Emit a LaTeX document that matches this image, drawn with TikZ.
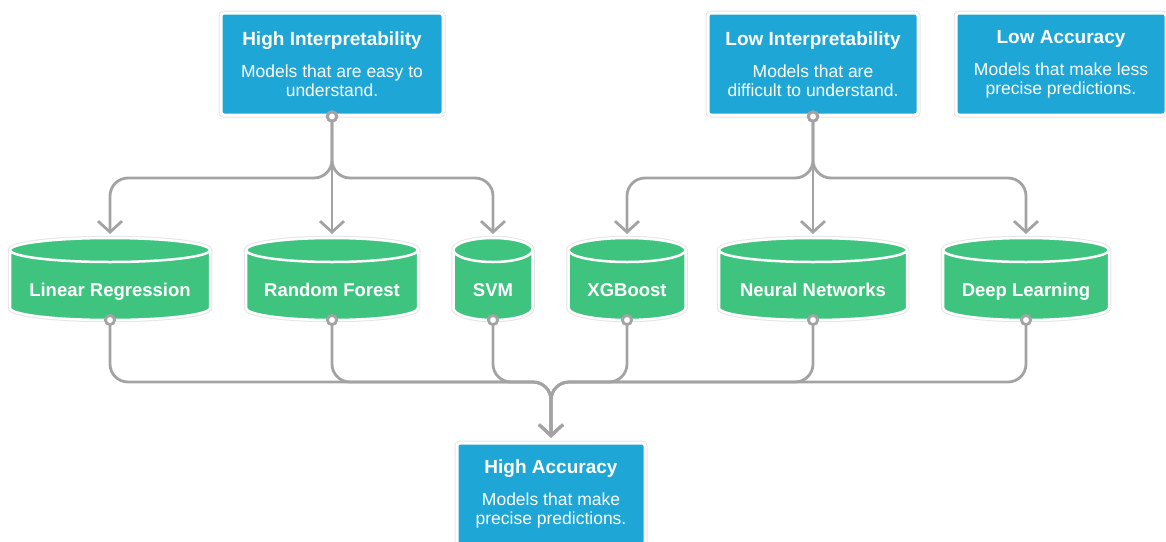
\documentclass[tikz,border=0pt]{standalone}
\usepackage{fontspec}
\setmainfont{Liberation Sans}
\usetikzlibrary{positioning, arrows.meta, calc}
\definecolor{boxblue}{HTML}{1EA7D6}
\definecolor{modelgreen}{HTML}{3EC47E}
\definecolor{linkgray}{HTML}{A3A3A3}
\newcommand{\boxtitle}[1]{{\bfseries\fontsize{19}{19}\selectfont #1}\\[13pt]}

\begin{document}
\begin{tikzpicture}[x=1pt, y=-1pt,
        box/.style={rounded corners=3pt, fill=boxblue, draw=white, line width=3pt,
            preaction={draw=black!10, line width=5pt}, text=white, align=center,
            minimum height=102pt, inner sep=0pt, font=\fontsize{17.5}{19}\selectfont},
        drum/.style={fill=modelgreen, draw=white, line width=2.5pt,
            preaction={draw=black!10, line width=4.5pt}},
        model/.style={rectangle, inner sep=0pt, outer sep=-4pt, minimum height=90pt,
            text height=37pt, text depth=2pt, text=white,
            font=\bfseries\fontsize{18.5}{19}\selectfont,
            path picture={
              \path[drum] let \p1=(path picture bounding box.south west),
                  \p2=(path picture bounding box.north east), \n1={(\x2-\x1)/2-4pt} in
                ({\x1+4pt},{\y2-16pt}) -- ({\x1+4pt},{\y1+16pt})
                  arc[start angle=180, end angle=360, x radius=\n1, y radius=12pt]
                  -- ({\x2-4pt},{\y2-16pt})
                  arc[start angle=0, end angle=180, x radius=\n1, y radius=12pt] -- cycle
                ({\x1+4pt},{\y2-16pt})
                  arc[start angle=180, end angle=360, x radius=\n1, y radius=12pt];
            }},
        link/.style={draw=linkgray, line width=2.8pt, rounded corners=18pt,
            {Circle[fill=white, length=12pt]}-{Straight Barb[length=11pt, width=24pt]},
            shorten <=-6pt, shorten >=4pt}
    ]
      \useasboundingbox (0,0) rectangle (1166,541);

      % Interpretability / accuracy groups
      \node[box, minimum width=222pt] (hi) at (332,64) {\boxtitle{High Interpretability}Models that are easy to\\understand.};
      \node[box, minimum width=210pt] (li) at (813,64) {\boxtitle{Low Interpretability}Models that are\\difficult to understand.};
      \node[box, minimum width=210pt] (la) at (1061,64) {\boxtitle{Low Accuracy}Models that make less\\precise predictions.};
      \node[box, minimum width=188pt] (ha) at (551,494) {\boxtitle{High Accuracy}Models that make\\precise predictions.};

      % Models
      \node[model, minimum width=208pt] (lr) at (110,279) {Linear Regression};
      \node[model, minimum width=180pt] (rf) at (332,279) {Random Forest};
      \node[model, minimum width=87pt] (svm) at (493,279) {SVM};
      \node[model, minimum width=125pt] (xgb) at (627,279) {XGBoost};
      \node[model, minimum width=196pt] (nn) at (813,279) {Neural Networks};
      \node[model, minimum width=174pt] (dl) at (1026,279) {Deep Learning};

      \coordinate (topbus) at (0,178);
      \coordinate (botbus) at (0,382);

      % Top links
      \draw[link] (hi.south) -- (hi.south |- topbus) -| (lr.north);
      \draw[link] (hi.south) -- (rf.north);
      \draw[link] (hi.south) -- (hi.south |- topbus) -| (svm.north);
      \draw[link] (li.south) -- (li.south |- topbus) -| (xgb.north);
      \draw[link] (li.south) -- (nn.north);
      \draw[link] (li.south) -- (li.south |- topbus) -| (dl.north);

      % Bottom links
      \foreach \m in {lr, rf, svm, xgb, nn, dl}
        \draw[link] (\m.south) |- (ha.north |- botbus) -- (ha.north);
    \end{tikzpicture}
\end{document}
